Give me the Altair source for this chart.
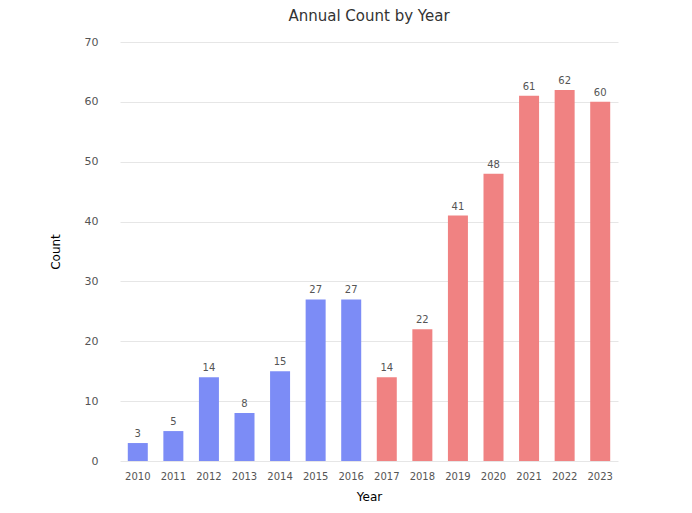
import altair as alt
import pandas as pd

# Yearly counts, split into two periods
years = ["2010", "2011", "2012", "2013", "2014", "2015", "2016",
         "2017", "2018", "2019", "2020", "2021", "2022", "2023"]
counts = [3, 5, 14, 8, 15, 27, 27, 14, 22, 41, 48, 61, 62, 60]
periods = ["Before"] * 7 + ["After"] * 7

period_names = ["Before", "After"]
period_colors = ["#7c8cf6", "#f08282"]

df = pd.DataFrame({"Year": years, "Count": counts, "Period": periods})

base = alt.Chart(df).encode(
    x=alt.X("Year:N", sort=years, title="Year",
            axis=alt.Axis(labelAngle=0, labelFontSize=10, labelColor="#555",
                          titleFontSize=12, titleFontWeight="normal",
                          domain=False, ticks=False, labelPadding=10,
                          titlePadding=10)),
)

bars = base.mark_bar(size=20).encode(
    y=alt.Y("Count:Q", title="Count", scale=alt.Scale(domain=[0, 70]),
            axis=alt.Axis(values=[0, 10, 20, 30, 40, 50, 60, 70],
                          labelFontSize=11, labelColor="#555",
                          titleFontSize=12, titleFontWeight="normal",
                          domain=False, ticks=False, labelPadding=22,
                          titlePadding=22, gridColor="#e6e6e6")),
    color=alt.Color("Period:N", scale=alt.Scale(domain=period_names, range=period_colors),
                    legend=None),
)

labels = base.mark_text(dy=-9, fontSize=10, color="#555").encode(
    y="Count:Q",
    text="Count:Q",
)

chart = (bars + labels).properties(
    width=498,
    height=419,
    padding={"left": 49, "top": 9, "right": 5, "bottom": 5},
    title=alt.TitleParams("Annual Count by Year", fontSize=15, fontWeight="normal",
                          color="#333", offset=12),
).configure(
    font="DejaVu Sans",
    view=alt.ViewConfig(stroke=None),
)

chart.save("out.html", embed_options={"renderer": "svg", "actions": False})
